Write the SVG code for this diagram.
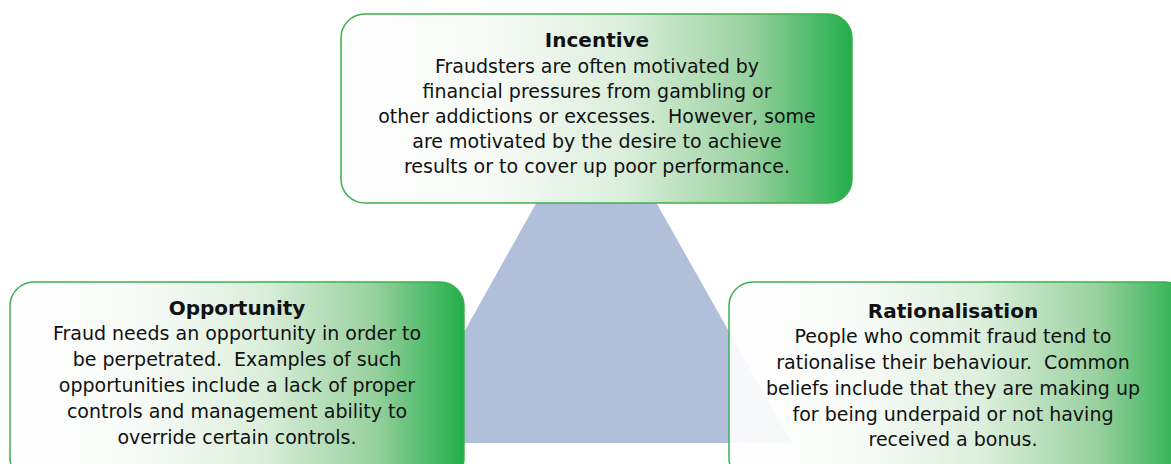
<svg xmlns="http://www.w3.org/2000/svg" width="1171" height="464" viewBox="0 0 1171 464">
  <defs>
    <linearGradient id="boxFill" x1="0" y1="0" x2="1" y2="0">
      <stop offset="0" stop-color="#ffffff" stop-opacity="0.9"/>
      <stop offset="0.3" stop-color="#f6faf6" stop-opacity="0.96"/>
      <stop offset="0.55" stop-color="#dcefdc"/>
      <stop offset="0.8" stop-color="#99d19f"/>
      <stop offset="1" stop-color="#22ae4a"/>
    </linearGradient>
    <style>
      .box { fill: url(#boxFill); stroke: #3fae4f; stroke-width: 1.5; }
      .title { font-family: "DejaVu Sans", "Noto Sans", sans-serif; font-size: 20px; font-weight: 700; fill: #111; text-anchor: middle; }
      .body { font-family: "DejaVu Sans", "Noto Sans", sans-serif; font-size: 19px; fill: #111; text-anchor: middle; white-space: pre; }
    </style>
  </defs>
  <rect width="1171" height="464" fill="#ffffff"/>

  <!-- central triangle linking the three factors -->
  <g id="connectors">
    <polygon points="596,96 402,443 792,443" fill="#b2bfda"/>
  </g>

  <g id="incentive">
    <rect class="box" x="341" y="14" width="511" height="189" rx="24"/>
    <text class="title" x="597" y="47">Incentive</text>
    <text class="body" x="597" y="73">Fraudsters are often motivated by</text>
    <text class="body" x="597" y="98">financial pressures from gambling or</text>
    <text class="body" x="597" y="123" xml:space="preserve">other addictions or excesses.  However, some</text>
    <text class="body" x="597" y="148">are motivated by the desire to achieve</text>
    <text class="body" x="597" y="173">results or to cover up poor performance.</text>
  </g>

  <g id="opportunity">
    <rect class="box" x="10" y="282" width="454" height="200" rx="24"/>
    <text class="title" x="237" y="315">Opportunity</text>
    <text class="body" x="237" y="340">Fraud needs an opportunity in order to</text>
    <text class="body" x="237" y="366" xml:space="preserve">be perpetrated.  Examples of such</text>
    <text class="body" x="237" y="392">opportunities include a lack of proper</text>
    <text class="body" x="237" y="418">controls and management ability to</text>
    <text class="body" x="237" y="444">override certain controls.</text>
  </g>

  <g id="rationalisation">
    <rect class="box" x="729" y="282" width="460" height="200" rx="24"/>
    <text class="title" x="953" y="318">Rationalisation</text>
    <text class="body" x="953" y="343">People who commit fraud tend to</text>
    <text class="body" x="953" y="369" xml:space="preserve">rationalise their behaviour.  Common</text>
    <text class="body" x="953" y="395">beliefs include that they are making up</text>
    <text class="body" x="953" y="421">for being underpaid or not having</text>
    <text class="body" x="953" y="446">received a bonus.</text>
  </g>
</svg>
